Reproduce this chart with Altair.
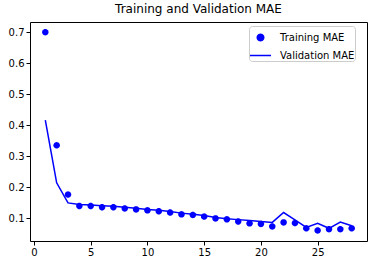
import altair as alt
import pandas as pd
import math

epochs = list(range(1, 29))
train_mae = [0.700, 0.335, 0.176, 0.139, 0.139, 0.135, 0.135, 0.131, 0.128, 0.125,
             0.122, 0.118, 0.112, 0.110, 0.105, 0.099, 0.096, 0.089, 0.083, 0.081,
             0.073, 0.086, 0.084, 0.067, 0.060, 0.064, 0.064, 0.067]
val_mae = [0.416, 0.214, 0.149, 0.144, 0.142, 0.140, 0.138, 0.135, 0.132, 0.128,
           0.125, 0.121, 0.116, 0.112, 0.108, 0.102, 0.098, 0.095, 0.092, 0.089,
           0.086, 0.118, 0.094, 0.070, 0.083, 0.067, 0.087, 0.075]
series_names = ["Training MAE", "Validation MAE"]
x_ticks = [0, 5, 10, 15, 20, 25]
y_ticks = [0.1, 0.2, 0.3, 0.4, 0.5, 0.6, 0.7]

train_df = pd.DataFrame({"epoch": epochs, "mae": train_mae, "series": series_names[0]})
val_df = pd.DataFrame({"epoch": epochs, "mae": val_mae, "series": series_names[1]})

r = 0.31
pts = [(r * math.cos(2 * math.pi * k / 24), r * math.sin(2 * math.pi * k / 24)) for k in range(24)]
dot_path = "M" + "L".join(f"{px:.4f},{py:.4f}" for px, py in pts) + "Z"
dash_path = "M-1,0L1,0"

x_enc = alt.X("epoch:Q", scale=alt.Scale(domain=[-0.35, 29.35], nice=False, zero=False),
              axis=alt.Axis(values=x_ticks, title=None, format="d"))
y_enc = alt.Y("mae:Q", scale=alt.Scale(domain=[0.026, 0.733], nice=False, zero=False),
              axis=alt.Axis(values=y_ticks, title=None, format=".1f"))

legend = alt.Legend(title=None, orient="none", legendX=219, legendY=4)

points = alt.Chart(train_df).mark_point(filled=True, size=440, opacity=1).encode(
    x=x_enc, y=y_enc,
    color=alt.Color("series:N", scale=alt.Scale(domain=series_names, range=["blue", "blue"]),
                    legend=legend),
    shape=alt.Shape("series:N", scale=alt.Scale(domain=series_names, range=[dot_path, dash_path]),
                    legend=legend),
)

line = alt.Chart(val_df).mark_line(color="blue", strokeWidth=1.5).encode(x=x_enc, y=y_enc)

chart = alt.layer(line, points).properties(
    width=337, height=219,
    title=alt.TitleParams("Training and Validation MAE", fontSize=12, fontWeight="normal",
                          font="DejaVu Sans", color="black", offset=6),
    autosize=alt.AutoSizeParams(type="none"),
    padding={"left": 30, "top": 22, "right": 5, "bottom": 23},
).configure_view(stroke="black", strokeWidth=1).configure_axis(
    grid=False, domain=False, tickColor="black", tickSize=4, labelColor="black",
    labelFont="DejaVu Sans", labelFontSize=10, labelPadding=2,
).configure_legend(
    strokeColor="#cccccc", fillColor="white", cornerRadius=3, padding=0,
    labelFont="DejaVu Sans", labelFontSize=10, labelColor="black",
    symbolStrokeColor="blue", symbolStrokeWidth=1.5, symbolFillColor="blue",
    symbolSize=440, rowPadding=-5, labelOffset=8,
)

chart.save("out.html", embed_options={"renderer": "svg", "actions": False})
